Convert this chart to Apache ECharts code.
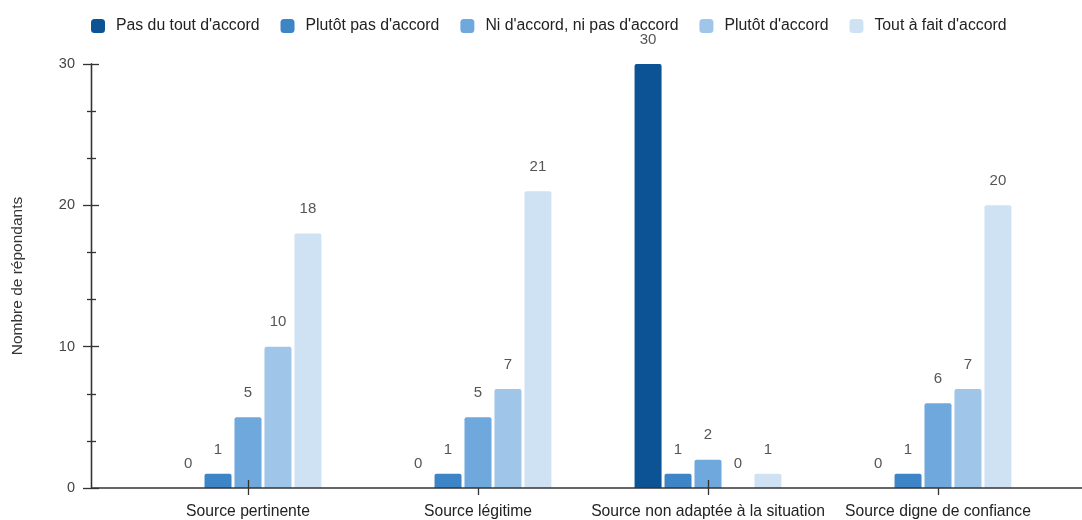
<!DOCTYPE html>
<html>
<head>
<meta charset="utf-8">
<script src="https://cdn.jsdelivr.net/npm/echarts@6/dist/echarts.min.js"></script>
<style>
  html, body { margin: 0; padding: 0; background: #fff; }
  #chart { width: 1082px; height: 520px; }
</style>
</head>
<body>
<div id="chart"></div>
<script>
// Survey answers: how respondents judged the source
const categories = ['Source pertinente', 'Source légitime', 'Source non adaptée à la situation', 'Source digne de confiance'];
const answerLabels = ["Pas du tout d'accord", "Plutôt pas d'accord", "Ni d'accord, ni pas d'accord", "Plutôt d'accord", "Tout à fait d'accord"];
const pasDuTout   = [0, 0, 30, 0];
const plutotPas   = [1, 1, 1, 1];
const niNi        = [5, 5, 2, 6];
const plutot      = [10, 7, 0, 7];
const toutAFait   = [18, 21, 1, 20];
const yTicks = [0, 10, 20, 30];

const colors = ['#0b5394', '#3d85c6', '#6fa8dc', '#9fc5e8', '#cfe2f3'];
const FONT = 'Liberation Sans, Arial, sans-serif';
const AXIS_COLOR = '#333';

const GRID_LEFT = 133, GRID_RIGHT = 29, Y_OFFSET = 42;

const seriesValues = [pasDuTout, plutotPas, niNi, plutot, toutAFait];
const series = seriesValues.map((vals, i) => ({
  name: answerLabels[i],
  type: 'bar',
  data: vals,
  barWidth: 27,
  barGap: '11%',
  z: 2,
  itemStyle: { color: colors[i], borderRadius: [2, 2, 0, 0] },
  label: {
    show: true, position: 'top', distance: 17,
    color: '#555', fontSize: 15, fontFamily: FONT
  }
}));

const chart = echarts.init(document.getElementById('chart'), null, { renderer: 'canvas' });

const tickStyle = { color: AXIS_COLOR, width: 1.3 };

const yBase = {
  type: 'value', min: yTicks[0], max: yTicks[yTicks.length - 1], interval: 10,
  offset: Y_OFFSET,
  splitLine: { show: false },
  axisLine: { show: true, lineStyle: { color: AXIS_COLOR, width: 1.3 } },
  minorTick: { show: true, splitNumber: 3, length: 4, lineStyle: tickStyle },
  axisTick: { show: true, length: 8, lineStyle: tickStyle }
};

const xBase = {
  type: 'category', data: categories,
  axisLine: { show: false },
  axisTick: { show: true, alignWithLabel: true, length: 7, lineStyle: tickStyle }
};

chart.setOption({
  animation: false,
  textStyle: { fontFamily: FONT },
  legend: {
    top: 13, left: 86,
    itemWidth: 14, itemHeight: 14, itemGap: 21,
    icon: 'roundRect',
    textStyle: { fontSize: 15.8, color: '#222', fontFamily: FONT, padding: [0, 0, 0, 6] },
    data: answerLabels
  },
  grid: { left: GRID_LEFT, right: GRID_RIGHT, top: 64, bottom: 32 },
  xAxis: [
    Object.assign({}, xBase, {
      axisLabel: { color: '#222', fontSize: 15.7, margin: 16, interval: 0, fontFamily: FONT }
    }),
    Object.assign({}, xBase, {
      position: 'bottom',
      z: 10,
      axisLabel: { show: false },
      axisTick: { show: true, alignWithLabel: true, inside: true, length: 8, lineStyle: tickStyle }
    })
  ],
  yAxis: [
    Object.assign({}, yBase, {
      name: 'Nombre de répondants',
      nameLocation: 'middle', nameGap: 65,
      nameTextStyle: { color: '#333', fontSize: 15.5, fontFamily: FONT },
      axisLabel: { color: '#444', fontSize: 14.5, margin: 16, fontFamily: FONT }
    }),
    Object.assign({}, yBase, {
      position: 'left',
      axisLabel: { show: false },
      axisTick: { show: true, inside: true, length: 8, lineStyle: tickStyle },
      minorTick: { show: true, splitNumber: 3, length: 5, lineStyle: tickStyle }
    })
  ],
  series: series
});

// Baseline running from the value axis to the right edge of the canvas
const baseY = chart.convertToPixel({ yAxisIndex: 0 }, 0);
chart.setOption({
  graphic: [{
    type: 'line', z: 100,
    shape: { x1: GRID_LEFT - Y_OFFSET, y1: baseY, x2: chart.getWidth(), y2: baseY },
    style: { stroke: AXIS_COLOR, lineWidth: 1.3 }
  }]
});
</script>
</body>
</html>
